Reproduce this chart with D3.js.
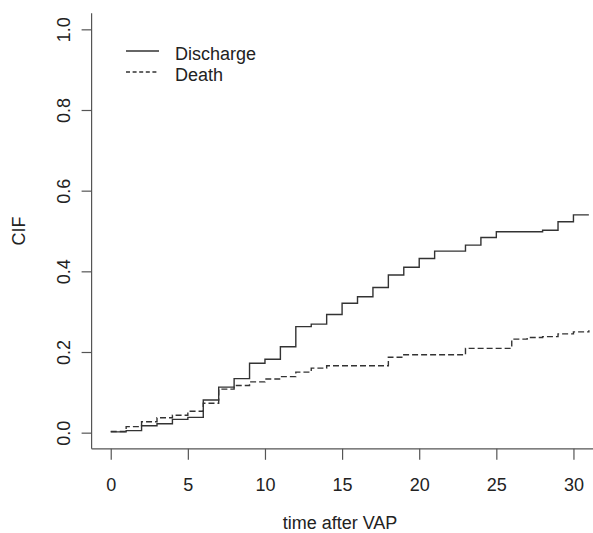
<!DOCTYPE html>
<html>
<head>
<meta charset="utf-8">
<script src="https://cdn.jsdelivr.net/npm/d3@7"></script>
<style>
  body { margin: 0; background: #fff; }
  svg { display: block; font-family: 'Liberation Sans', Arial, sans-serif; }
</style>
</head>
<body>
<div id="graf"></div>
<script>
// -- Datos
tiempos   = [0, 1, 2, 3, 4, 5, 6, 7, 8, 9, 10, 11, 12, 13, 14, 15, 16, 17, 18, 19, 20, 21, 22, 23, 24, 25, 26, 27, 28, 29, 30, 31]
discharge = [0.002, 0.005, 0.017, 0.022, 0.033, 0.038, 0.081, 0.113, 0.134, 0.172, 0.182, 0.213, 0.263, 0.269, 0.293, 0.321, 0.337, 0.360, 0.391, 0.410, 0.432, 0.450, 0.450, 0.465, 0.484, 0.498, 0.498, 0.498, 0.502, 0.523, 0.540, 0.540]
death     = [0.003, 0.015, 0.027, 0.037, 0.043, 0.053, 0.073, 0.108, 0.117, 0.126, 0.133, 0.139, 0.150, 0.160, 0.166, 0.166, 0.166, 0.166, 0.187, 0.193, 0.193, 0.193, 0.193, 0.209, 0.209, 0.209, 0.232, 0.236, 0.238, 0.245, 0.250, 0.254]
xTicks = [0, 5, 10, 15, 20, 25, 30]
yTicks = [0, 0.2, 0.4, 0.6, 0.8, 1]
series = [
  {nombre: 'Discharge', valores: discharge, dash: null},
  {nombre: 'Death', valores: death, dash: '6,3'}
]

ancho_total = 593
alto_total = 533

svg = d3.select('#graf').append('svg')
        .attr('width', ancho_total)
        .attr('height', alto_total)

// -- Escaladores (dominio con la extensión del 4% de R)
x = d3.scaleLinear().domain([-1.24, 32.24]).range([91.6, 608])
y = d3.scaleLinear().domain([-0.04, 1.04]).range([448.8, 13.2])

ink = '#333'
fnt = 18

// -- Ejes (tipo "L")
xAxis = d3.axisBottom(x).tickValues(xTicks).tickSize(11).tickPadding(18).tickFormat(d3.format('d'))
yAxis = d3.axisLeft(y).tickValues(yTicks).tickSize(10).tickFormat(d3.format('.1f'))

gx = svg.append('g')
        .attr('transform', `translate(0,${y(-0.04)})`)
        .call(xAxis)
gx.select('.domain').attr('d', `M${x(-1.24)},0H${ancho_total + 20}`)

gy = svg.append('g')
        .attr('transform', `translate(${x(-1.24)},0)`)
        .call(yAxis)
gy.select('.domain').attr('d', `M0,${y(-0.04)}V${y(1.04)}`)

svg.selectAll('.domain, .tick line')
   .attr('stroke', '#555')
   .attr('stroke-width', 1.2)
svg.selectAll('.tick text')
   .attr('fill', '#222')
   .attr('font-size', `${fnt}px`)
   .attr('font-family', 'Liberation Sans, Arial, sans-serif')

// etiquetas del eje y rotadas
gy.selectAll('.tick text')
  .attr('x', null)
  .attr('dy', null)
  .attr('text-anchor', 'middle')
  .attr('transform', 'translate(-22,0) rotate(-90)')

// -- Títulos de ejes
svg.append('text')
   .attr('x', 340)
   .attr('y', 529)
   .attr('text-anchor', 'middle')
   .attr('font-size', `${fnt}px`)
   .attr('fill', '#222')
   .text('time after VAP')

svg.append('text')
   .attr('transform', `translate(25,${y(0.5)}) rotate(-90)`)
   .attr('text-anchor', 'middle')
   .attr('font-size', `${fnt}px`)
   .attr('fill', '#222')
   .text('CIF')

// -- Curvas escalonadas
linea = d3.line()
          .x((d, i) => x(tiempos[i]))
          .y(d => y(d))
          .curve(d3.curveStepAfter)

svg.selectAll('path.cif')
   .data(series)
   .enter()
   .append('path')
   .attr('class', 'cif')
   .attr('d', d => linea(d.valores))
   .attr('fill', 'none')
   .attr('stroke', ink)
   .attr('stroke-width', 1.4)
   .attr('stroke-dasharray', d => d.dash)

// -- Leyenda
ley = svg.append('g')
ley.selectAll('line')
   .data(series)
   .enter()
   .append('line')
   .attr('x1', 126)
   .attr('x2', 159)
   .attr('y1', (d, i) => 51 + i * 21)
   .attr('y2', (d, i) => 51 + i * 21)
   .attr('stroke', ink)
   .attr('stroke-width', 1.3)
   .attr('stroke-dasharray', d => d.dash ? '4,2.6' : null)
ley.selectAll('text')
   .data(series)
   .enter()
   .append('text')
   .attr('x', 175)
   .attr('y', (d, i) => 59.5 + i * 21)
   .attr('font-size', `${fnt}px`)
   .attr('fill', '#222')
   .text(d => d.nombre)
</script>
</body>
</html>
